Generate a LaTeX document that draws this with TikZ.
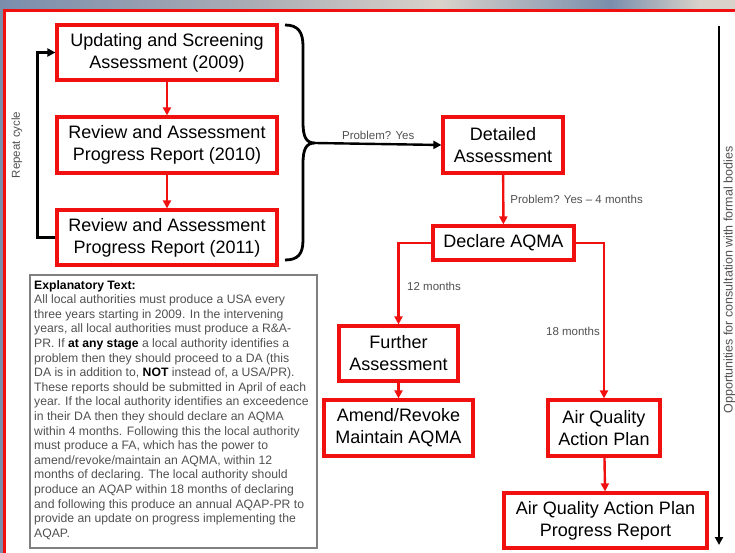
\documentclass[tikz,border=0pt]{standalone}
\usepackage{fontspec}
\setmainfont{Liberation Sans}
\usetikzlibrary{arrows.meta}
\definecolor{aqred}{RGB}{240,16,16}
\definecolor{labelgray}{RGB}{80,80,80}
\definecolor{bandblue}{RGB}{122,142,172}
\definecolor{bandgray}{RGB}{170,172,180}
\definecolor{bandlight}{RGB}{216,210,202}
\begin{document}
\begin{tikzpicture}[x=1pt, y=-1pt,
    stage/.style={draw=aqred, line width=3.2pt, fill=white, align=center,
        inner sep=1pt, font=\fontsize{18}{22}\selectfont},
    flow/.style={draw=aqred, line width=2.4pt, -{Triangle[length=8pt,width=8pt]}},
    loop/.style={draw=black, line width=2.4pt, -{Triangle[length=8pt,width=8pt]}},
    note/.style={text=labelgray, font=\fontsize{11.5}{13}\selectfont, inner sep=1pt}]
    \useasboundingbox (0,0) rectangle (735,553);

    % frame and top band
    \shade[left color=bandblue, right color=bandgray] (0,0) rectangle (250,10);
    \shade[left color=bandgray, right color=bandlight] (250,0) rectangle (440,10);
    \shade[left color=bandlight, right color=bandblue] (440,0) rectangle (610,10);
    \shade[left color=bandblue, right color=bandlight] (610,0) rectangle (700,10);
    \fill[bandlight] (700,0) rectangle (735,10);
    \fill[bandblue] (0,10) rectangle (3,553);
    \draw[aqred, line width=3pt] (4.5,553) -- (4.5,11) -- (735,11);

    % repeat cycle
    \node[stage, minimum width=220pt, minimum height=55pt] (usa) at (167,52.5)
        {Updating and Screening\\Assessment (2009)};
    \node[stage, minimum width=220pt, minimum height=56pt] (rap10) at (167,145)
        {Review and Assessment\\Progress Report (2010)};
    \node[stage, minimum width=220pt, minimum height=55pt] (rap11) at (167,237.5)
        {Review and Assessment\\Progress Report (2011)};
    \draw[flow] (usa) -- (rap10);
    \draw[flow] (rap10) -- (rap11);
    \draw[loop] (rap11.west) -- ++(-18,0) |- (usa.west);
    \node[note, rotate=90] (repeat) at (17,145) {Repeat cycle};

    % brace
    \coordinate (bracetip) at (315,143);
    \draw[line width=2.8pt] (285,25) .. controls (298,25) and (303,32) .. (303,46)
        -- (303,122) .. controls (303,137) and (306,143) .. (bracetip)
        .. controls (306,143) and (303,149) .. (303,164)
        -- (303,240) .. controls (303,254) and (298,260) .. (285,260);

    % detailed assessment and AQMA
    \node[stage, minimum width=120pt, minimum height=56pt] (da) at (503,145)
        {Detailed\\Assessment};
    \draw[loop] (bracetip) -- (da.west)
        node[note, pos=0.5, above=2pt] {Problem? Yes};
    \node[stage, minimum width=141pt, minimum height=34pt] (aqma) at (503.5,243)
        {Declare AQMA};
    \draw[flow] (da) -- (aqma)
        node[note, midway, right=5pt] {Problem? Yes -- 4 months};

    \node[stage, minimum width=119pt, minimum height=55pt] (fa) at (398.5,353.5)
        {Further\\Assessment};
    \node[stage, minimum width=149pt, minimum height=56pt] (amend) at (398.5,428)
        {Amend/Revoke\\Maintain AQMA};
    \node[stage, minimum width=112pt, minimum height=56pt] (aqap) at (604,428)
        {Air Quality\\Action Plan};
    \node[stage, minimum width=203pt, minimum height=55pt] (aqappr) at (605.5,520.5)
        {Air Quality Action Plan\\Progress Report};
    \draw[flow] (aqma.west) -| (fa.north);
    \draw[flow] (aqma.east) -| (aqap.north);
    \draw[flow] (fa) -- (amend);
    \draw[flow] (aqap) -- (aqappr);
    \node[note, anchor=west] (twelve) at (406,286) {12 months};
    \node[note, anchor=east] (eighteen) at (601,331) {18 months};

    % consultation arrow
    \coordinate (constop) at (719,26);
    \coordinate (consbot) at (719,545);
    \draw[loop, line width=2.6pt] (constop) -- (consbot);
    \node[note, rotate=90, font=\fontsize{12.5}{14}\selectfont] (consult) at (729.5,280)
        {Opportunities for consultation with formal bodies};

    % explanatory text
    \draw[draw=gray, line width=1.5pt] (30,275) rectangle (317,548);
    \node[note, anchor=north west, align=left, font=\fontsize{12.2}{14.6}\selectfont]
        (expl) at (33,279) {\textcolor{black}{\textbf{Explanatory Text:}}\\
        All local authorities must produce a USA every\\
        three years starting in 2009. In the intervening\\
        years, all local authorities must produce a R\&A-\\
        PR. If \textcolor{black}{\textbf{at any stage}} a local authority identifies a\\
        problem then they should proceed to a DA (this\\
        DA is in addition to, \textcolor{black}{\textbf{NOT}} instead of, a USA/PR).\\
        These reports should be submitted in April of each\\
        year. If the local authority identifies an exceedence\\
        in their DA then they should declare an AQMA\\
        within 4 months. Following this the local authority\\
        must produce a FA, which has the power to\\
        amend/revoke/maintain an AQMA, within 12\\
        months of declaring. The local authority should\\
        produce an AQAP within 18 months of declaring\\
        and following this produce an annual AQAP-PR to\\
        provide an update on progress implementing the\\
        AQAP.};
\end{tikzpicture}
\end{document}
